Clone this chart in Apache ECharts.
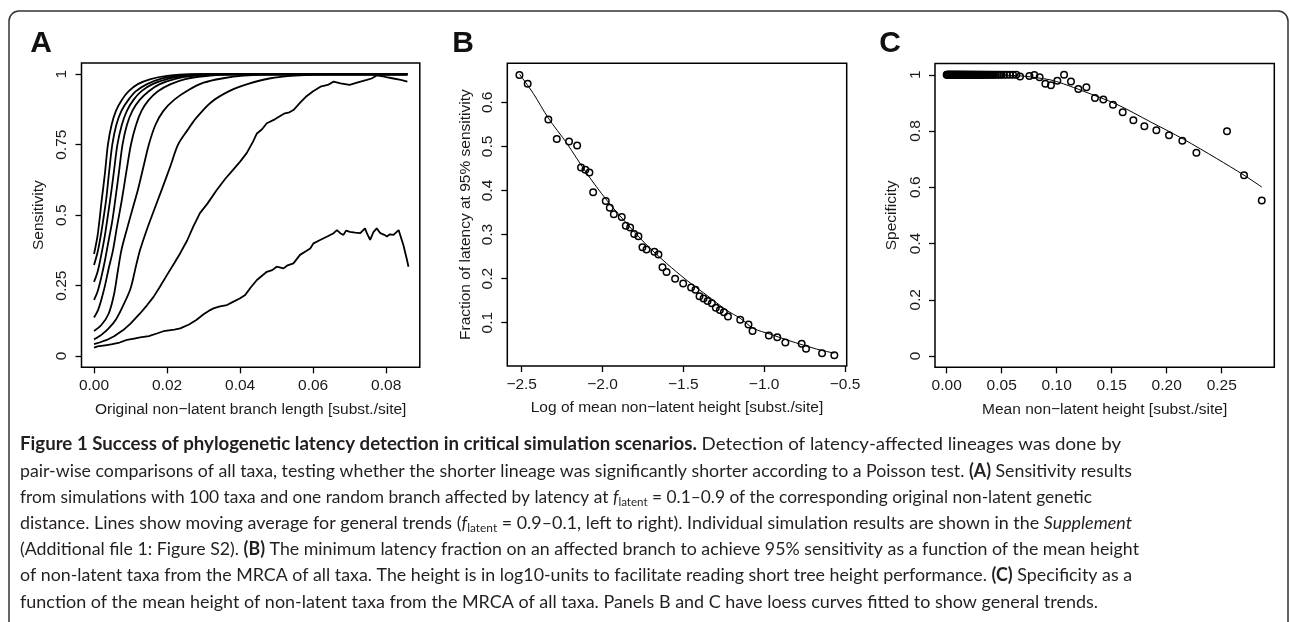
<!DOCTYPE html>
<html><head><meta charset="utf-8">
<script src="https://cdn.jsdelivr.net/npm/echarts@6/dist/echarts.min.js"></script>
<style>html,body{margin:0;padding:0;background:#fff}#chart{width:1290px;height:622px}</style>
</head><body><div id="chart"></div>
<script>
// ---------- Panel A: sensitivity moving averages (f_latent = 0.9 ... 0.1, left to right) ----------
const sensF09 = [[0,0.362],[0.001,0.43],[0.0021,0.553],[0.003,0.65],[0.0038,0.75],[0.0048,0.82],[0.006,0.87],[0.0076,0.909],[0.0095,0.94],[0.012,0.965],[0.0155,0.983],[0.02,0.994],[0.026,1],[0.0858,1]];
const sensF08 = [[0,0.323],[0.001,0.37],[0.002,0.44],[0.0033,0.553],[0.0041,0.65],[0.005,0.75],[0.0061,0.82],[0.0075,0.87],[0.0094,0.909],[0.0115,0.94],[0.0145,0.965],[0.018,0.983],[0.023,0.994],[0.029,1],[0.0858,1]];
const sensF07 = [[0,0.263],[0.001,0.30],[0.002,0.36],[0.003,0.43],[0.0044,0.553],[0.0054,0.65],[0.0064,0.75],[0.0076,0.82],[0.009,0.87],[0.0108,0.909],[0.013,0.94],[0.016,0.965],[0.02,0.983],[0.025,0.994],[0.031,1],[0.0858,1]];
const sensF06 = [[0,0.199],[0.001,0.23],[0.002,0.28],[0.003,0.34],[0.004,0.41],[0.005,0.48],[0.0058,0.553],[0.0068,0.65],[0.0078,0.75],[0.009,0.82],[0.0105,0.87],[0.0125,0.909],[0.015,0.94],[0.018,0.965],[0.022,0.983],[0.027,0.994],[0.034,1],[0.0858,1]];
const sensF05 = [[0,0.137],[0.001,0.16],[0.002,0.2],[0.003,0.25],[0.004,0.31],[0.0052,0.376],[0.0063,0.46],[0.0076,0.553],[0.0088,0.65],[0.0101,0.75],[0.0115,0.82],[0.013,0.87],[0.015,0.909],[0.0175,0.94],[0.021,0.965],[0.025,0.983],[0.03,0.993],[0.038,1],[0.0858,1]];
const sensF04 = [[0,0.089],[0.002,0.11],[0.004,0.15],[0.0055,0.22],[0.0065,0.3],[0.0075,0.376],[0.009,0.45],[0.0105,0.52],[0.012,0.589],[0.0135,0.67],[0.015,0.75],[0.0168,0.82],[0.019,0.87],[0.022,0.91],[0.026,0.945],[0.03,0.97],[0.035,0.985],[0.041,0.995],[0.05,1],[0.0858,1]];
const sensF03 = [[0,0.059],[0.002,0.075],[0.004,0.098],[0.006,0.13],[0.008,0.18],[0.01,0.24],[0.0115,0.32],[0.0126,0.376],[0.0145,0.45],[0.0165,0.52],[0.0185,0.589],[0.0208,0.67],[0.023,0.75],[0.0255,0.8],[0.028,0.845],[0.032,0.9],[0.037,0.94],[0.042,0.965],[0.048,0.985],[0.055,0.995],[0.065,1],[0.0858,1]];
const sensF02 = [[0,0.042],[0.0015,0.048],[0.0035,0.057],[0.0055,0.07],[0.008,0.092],[0.01,0.115],[0.0126,0.151],[0.0145,0.18],[0.0163,0.21],[0.018,0.245],[0.02,0.288],[0.022,0.33],[0.0236,0.365],[0.0255,0.41],[0.0272,0.46],[0.029,0.507],[0.031,0.54],[0.0336,0.589],[0.036,0.63],[0.038,0.66],[0.04,0.69],[0.0418,0.72],[0.0435,0.76],[0.0446,0.79],[0.046,0.805],[0.0473,0.826],[0.0495,0.84],[0.052,0.86],[0.0535,0.865],[0.0546,0.873],[0.0565,0.9],[0.058,0.92],[0.06,0.94],[0.062,0.956],[0.064,0.962],[0.0656,0.974],[0.0675,0.968],[0.07,0.962],[0.072,0.97],[0.0747,0.98],[0.076,0.985],[0.0774,0.996],[0.079,0.993],[0.08,0.99],[0.082,0.985],[0.084,0.98],[0.0858,0.974]];
const sensF01 = [[0,0.03],[0.001,0.034],[0.002,0.036],[0.0035,0.039],[0.005,0.042],[0.007,0.048],[0.009,0.057],[0.011,0.062],[0.0126,0.066],[0.015,0.071],[0.0172,0.08],[0.019,0.088],[0.02,0.09],[0.022,0.094],[0.0236,0.098],[0.026,0.112],[0.028,0.128],[0.03,0.148],[0.0318,0.163],[0.0327,0.169],[0.0345,0.176],[0.0364,0.181],[0.0382,0.193],[0.04,0.205],[0.0414,0.217],[0.043,0.245],[0.0446,0.27],[0.046,0.285],[0.0473,0.299],[0.0488,0.305],[0.05,0.317],[0.0519,0.311],[0.053,0.322],[0.0546,0.329],[0.0564,0.359],[0.058,0.372],[0.0592,0.382],[0.0601,0.40],[0.0619,0.412],[0.064,0.425],[0.0656,0.436],[0.0665,0.447],[0.0675,0.435],[0.0683,0.43],[0.069,0.445],[0.0701,0.441],[0.0715,0.438],[0.0729,0.436],[0.0742,0.453],[0.0747,0.436],[0.0756,0.412],[0.0765,0.44],[0.0774,0.453],[0.0784,0.436],[0.0795,0.43],[0.0802,0.424],[0.081,0.432],[0.082,0.43],[0.0834,0.447],[0.0838,0.45],[0.0847,0.394],[0.0857,0.341],[0.0861,0.317]];
const sensSmooth = [sensF09, sensF08, sensF07, sensF06, sensF05, sensF04, sensF03];
const sensNoisy = [sensF02, sensF01];

// ---------- Panel B: latency fraction at 95% sensitivity ----------
const bLogHeight = [-2.514,-2.463,-2.335,-2.283,-2.207,-2.157,-2.133,-2.106,-2.081,-2.058,-1.980,-1.955,-1.930,-1.881,-1.856,-1.829,-1.804,-1.778,-1.753,-1.728,-1.679,-1.654,-1.629,-1.604,-1.551,-1.501,-1.452,-1.425,-1.400,-1.375,-1.350,-1.324,-1.299,-1.274,-1.249,-1.224,-1.148,-1.097,-1.072,-0.971,-0.919,-0.869,-0.768,-0.741,-0.642,-0.566];
const bFraction = [0.662,0.642,0.561,0.517,0.511,0.502,0.452,0.447,0.441,0.396,0.376,0.361,0.346,0.340,0.320,0.316,0.301,0.296,0.271,0.266,0.261,0.255,0.226,0.215,0.200,0.189,0.180,0.175,0.160,0.155,0.149,0.144,0.134,0.129,0.124,0.114,0.107,0.096,0.081,0.071,0.067,0.055,0.052,0.041,0.031,0.026];
const bLoessX = [-2.514,-2.428,-2.335,-2.221,-2.098,-1.974,-1.850,-1.726,-1.602,-1.478,-1.354,-1.231,-1.148,-1.066,-0.962,-0.859,-0.756,-0.653,-0.566];
const bLoessY = [0.664,0.620,0.564,0.507,0.439,0.378,0.325,0.276,0.234,0.196,0.162,0.128,0.110,0.087,0.074,0.061,0.049,0.038,0.031];

// ---------- Panel C: specificity ----------
const cHeight = [0,0.0004,0.0009,0.0013,0.0018,0.0022,0.0027,0.0031,0.0036,0.0041,0.0045,0.005,0.0054,0.0059,0.0064,0.0068,0.0073,0.0078,0.0082,0.0087,0.0092,0.0097,0.0102,0.0107,0.0112,0.0117,0.0122,0.0127,0.0133,0.0138,0.0143,0.0149,0.0155,0.016,0.0166,0.0172,0.0178,0.0184,0.019,0.0197,0.0203,0.021,0.0217,0.0224,0.0231,0.0238,0.0246,0.0254,0.0262,0.027,0.0279,0.0288,0.0297,0.0307,0.0317,0.0327,0.0338,0.0349,0.0361,0.0373,0.0386,0.04,0.0414,0.0429,0.0445,0.0462,0.048,0.0499,0.052,0.0545,0.0573,0.0603,0.0633,
  0.0667,0.0752,0.0797,0.0845,0.0897,0.0948,0.1006,0.1067,0.113,0.1197,0.127,0.1348,0.1424,0.1512,0.16,0.1697,0.1797,0.1906,0.2021,0.2142,0.227,0.2548,0.2703,0.2864];
const cSpecificity = [1,1,1,1,1,1,1,1,1,1,1,1,1,1,1,1,1,1,1,1,1,1,1,1,1,1,1,1,1,1,1,1,1,1,1,1,1,1,1,1,1,1,1,1,1,1,1,1,1,1,1,1,1,1,1,1,1,1,1,1,1,1,1,1,1,1,1,1,1,1,1,1,1,
  0.994,0.996,0.999,0.991,0.968,0.963,0.979,1.0,0.976,0.949,0.956,0.917,0.912,0.893,0.867,0.838,0.817,0.803,0.785,0.765,0.723,0.799,0.643,0.553];
const cLoessX = [0,0.03,0.05,0.07,0.094,0.106,0.124,0.1545,0.185,0.2152,0.2455,0.2703,0.2864];
const cLoessY = [1.0,1.0,0.999,0.995,0.982,0.968,0.942,0.895,0.833,0.771,0.702,0.643,0.601];

// ---------- tick values and labels ----------
const aXTicks = [0,0.02,0.04,0.06,0.08];
const aXTickLabels = ['0.00','0.02','0.04','0.06','0.08'];
const aYTicks = [0,0.25,0.5,0.75,1];
const aYTickLabels = ['0','0.25','0.5','0.75','1'];
const bXTicks = [-2.5,-2,-1.5,-1,-0.5];
const bXTickLabels = ['\u22122.5','\u22122.0','\u22121.5','\u22121.0','\u22120.5'];
const bYTicks = [0.1,0.2,0.3,0.4,0.5,0.6];
const bYTickLabels = ['0.1','0.2','0.3','0.4','0.5','0.6'];
const cXTicks = [0,0.05,0.1,0.15,0.2,0.25];
const cXTickLabels = ['0.00','0.05','0.10','0.15','0.20','0.25'];
const cYTicks = [0,0.2,0.4,0.6,0.8,1];
const cYTickLabels = ['0','0.2','0.4','0.6','0.8','1'];

// ---------- texts ----------
const panelLetters = ['A','B','C'];
const axisNames = {
  aX: 'Original non\u2212latent branch length [subst./site]', aY: 'Sensitivity',
  bX: 'Log of mean non\u2212latent height [subst./site]', bY: 'Fraction of latency at 95% sensitivity',
  cX: 'Mean non\u2212latent height [subst./site]', cY: 'Specificity'
};
const captionLines = [
 '{b|Figure 1 Success of phylogenetic latency detection in critical simulation scenarios.} Detection of latency-affected lineages was done by',
 'pair-wise comparisons of all taxa, testing whether the shorter lineage was significantly shorter according to a Poisson test. {b|(A)} Sensitivity results',
 'from simulations with 100 taxa and one random branch affected by latency at {i|f}{sub|latent} = 0.1\u20130.9 of the corresponding original non-latent genetic',
 'distance. Lines show moving average for general trends ({i|f}{sub|latent} = 0.9\u20130.1, left to right). Individual simulation results are shown in the {i|Supplement}',
 '(Additional file 1: Figure S2). {b|(B)} The minimum latency fraction on an affected branch to achieve 95% sensitivity as a function of the mean height',
 'of non-latent taxa from the MRCA of all taxa. The height is in log10-units to facilitate reading short tree height performance. {b|(C)} Specificity as a',
 'function of the mean height of non-latent taxa from the MRCA of all taxa. Panels B and C have loess curves fitted to show general trends.'
];

// ---------- layout ----------
const RFONT = 'Liberation Sans';
const CFONT = 'Lato';
const CSIZE = 18;
const captionRightEdges = [1121,1132,1092,1132,1139,1132,1098];
const captionLeft = 20, captionTop = 444.5, captionStep = 26.2;

function pick(ticks, labels) {
  return function (v) {
    let best = 0;
    for (let i = 1; i < ticks.length; i++) if (Math.abs(ticks[i]-v) < Math.abs(ticks[best]-v)) best = i;
    return labels[best];
  };
}
const txt = {fontFamily: RFONT, fontSize: 15.5, color: '#1a1a1a'};
function xAx(gi, min, max, ticks, labels, name) {
  return {type:'value', gridIndex: gi, min, max, name, nameLocation:'middle', nameGap: 34,
    nameTextStyle: Object.assign({}, txt), splitLine:{show:false},
    axisLine:{show:false, onZero:false},
    axisTick:{show:true, length:6, customValues: ticks, lineStyle:{color:'#000', width:1.3}},
    axisLabel: Object.assign({customValues: ticks, margin: 10.5, formatter: pick(ticks, labels)}, txt)};
}
function yAx(gi, min, max, ticks, labels, name, lm, ng) {
  return {type:'value', gridIndex: gi, min, max, name, nameLocation:'middle', nameGap: ng, nameRotate: 90,
    nameTextStyle: Object.assign({}, txt), splitLine:{show:false},
    axisLine:{show:false, onZero:false},
    axisTick:{show:true, length:6, customValues: ticks, lineStyle:{color:'#000', width:1.3}},
    axisLabel: Object.assign({customValues: ticks, rotate: 90, margin: lm, formatter: pick(ticks, labels)}, txt)};
}
const gridStyle = {show:true, borderColor:'#000', borderWidth:1.5, backgroundColor:'transparent', containLabel:false, outerBoundsMode:'none'};

const series = [];
sensSmooth.forEach(d => series.push({type:'line', xAxisIndex:0, yAxisIndex:0, data:d, showSymbol:false, symbol:'none', smooth:0.3, lineStyle:{color:'#000', width:1.8}, silent:true}));
sensNoisy.forEach(d => series.push({type:'line', xAxisIndex:0, yAxisIndex:0, data:d, showSymbol:false, symbol:'none', lineStyle:{color:'#000', width:1.8}, silent:true}));
const circle = {type:'scatter', symbol:'circle', symbolSize:6.5, itemStyle:{color:'rgba(0,0,0,0)', borderColor:'#000', borderWidth:1.5, opacity:1}, silent:true};
series.push(Object.assign({}, circle, {xAxisIndex:1, yAxisIndex:1, data: bLogHeight.map((x,i)=>[x,bFraction[i]])}));
series.push({type:'line', xAxisIndex:1, yAxisIndex:1, data: bLoessX.map((x,i)=>[x,bLoessY[i]]), showSymbol:false, symbol:'none', smooth:0.3, lineStyle:{color:'#000', width:1}, silent:true});
series.push(Object.assign({}, circle, {xAxisIndex:2, yAxisIndex:2, data: cHeight.map((x,i)=>[x,cSpecificity[i]])}));
series.push({type:'line', xAxisIndex:2, yAxisIndex:2, data: cLoessX.map((x,i)=>[x,cLoessY[i]]), showSymbol:false, symbol:'none', smooth:0.3, lineStyle:{color:'#000', width:1}, silent:true});

// caption graphic
const measureCtx = document.createElement('canvas').getContext('2d');
const richDefs = {
  n: {style:'normal', weight:'normal', size:CSIZE},
  b: {style:'normal', weight:'bold', size:CSIZE},
  i: {style:'italic', weight:'normal', size:CSIZE},
  sub: {style:'normal', weight:'normal', size:12}
};
function lineWidth(line) {
  let w = 0; const re = /\{(\w+)\|([^}]*)\}/g; let last = 0, m;
  const runs = [];
  while ((m = re.exec(line))) { if (m.index > last) runs.push(['n', line.slice(last, m.index)]); runs.push([m[1], m[2]]); last = re.lastIndex; }
  if (last < line.length) runs.push(['n', line.slice(last)]);
  runs.forEach(([k, t]) => { const d = richDefs[k]; measureCtx.font = d.style+' '+d.weight+' '+d.size+'px '+CFONT; w += measureCtx.measureText(t).width; });
  return w;
}
const capColor = '#231f20';
const graphics = [
  {type:'rect', shape:{x:9, y:11, width:1279, height:650, r:10}, style:{fill:'none', stroke:'#333', lineWidth:1.5}, silent:true}
];
[[41,44],[463,44],[890,44]].forEach((p,i) => graphics.push({type:'text', x:p[0], y:p[1], style:{text: panelLetters[i], font:'bold 30px "Liberation Sans"', fill:'#111', align:'center', verticalAlign:'middle'}, silent:true}));
captionLines.forEach((line, i) => {
  const natural = lineWidth(line);
  const s = (captionRightEdges[i] - captionLeft) / natural;
  graphics.push({type:'text', x: captionLeft, y: captionTop + i*captionStep, scaleX: s, silent:true,
    style:{text: line, fontFamily: CFONT, fontSize: CSIZE, fill: capColor, verticalAlign:'middle', align:'left', lineHeight: 22,
      rich:{
        b:{fontFamily: CFONT, fontSize: CSIZE, fontWeight:'bold', fill: capColor, lineHeight: 22},
        i:{fontFamily: CFONT, fontSize: CSIZE, fontStyle:'italic', fill: capColor, lineHeight: 22},
        sub:{fontFamily: CFONT, fontSize: 12, fill: capColor, lineHeight: 12, verticalAlign:'bottom'}
      }}});
});

const chart = echarts.init(document.getElementById('chart'), null, {renderer:'canvas'});
chart.setOption({
  animation:false,
  backgroundColor:'#fff',
  grid:[
    Object.assign({left:81.5, top:63, width:338.3, height:304.3}, gridStyle),
    Object.assign({left:507.3, top:63.3, width:339.4, height:302.7}, gridStyle),
    Object.assign({left:935, top:63.5, width:339.3, height:303.8}, gridStyle)
  ],
  xAxis:[
    xAx(0, -0.00343, 0.0892, aXTicks, aXTickLabels, axisNames.aX),
    xAx(1, -2.589, -0.4895, bXTicks, bXTickLabels, axisNames.bX),
    xAx(2, -0.0106, 0.2978, cXTicks, cXTickLabels, axisNames.cX)
  ],
  yAxis:[
    yAx(0, -0.04, 1.04, aYTicks, aYTickLabels, axisNames.aY, 12, 35),
    yAx(1, 0.0018, 0.6885, bYTicks, bYTickLabels, axisNames.bY, 11.5, 34),
    yAx(2, -0.04, 1.04, cYTicks, cYTickLabels, axisNames.cY, 11, 35)
  ],
  series,
  graphic: graphics
});
</script></body></html>
